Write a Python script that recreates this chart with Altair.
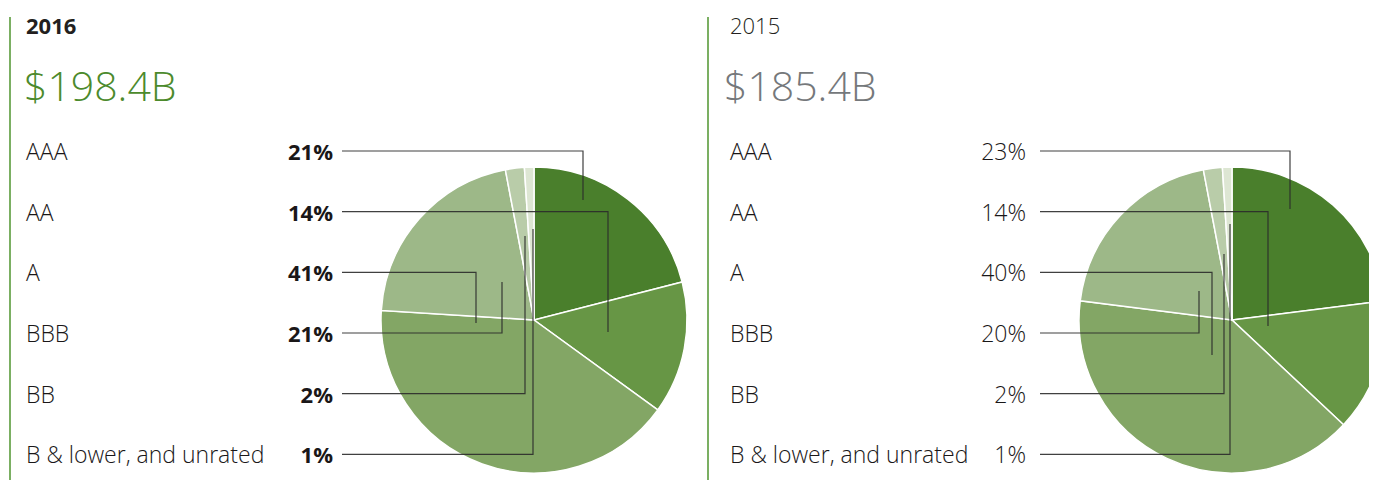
import altair as alt
import pandas as pd

# ---------------- data ----------------
ratings = ["AAA", "AA", "A", "BBB", "BB", "B & lower, and unrated"]
pct_2016 = [21, 14, 41, 21, 2, 1]
pct_2015 = [23, 14, 40, 20, 2, 1]
years = ["2016", "2015"]
totals = ["$198.4B", "$185.4B"]
series = [pct_2016, pct_2015]

# ---------------- styles / layout (chart pixels) ----------------
slice_colors = ["#4a7f2c", "#679645", "#83a665", "#9db888", "#b9cca9", "#dde6d3"]
total_colors = ["#4c8a2c", "#75787b"]
title_weights = ["bold", 300]
pct_weights = ["bold", 300]
pct_sizes = [22, 23]
W, H = 1361, 472
panel_rule_x = [2, 700]
panel_rule_top = 9
text_x = [18, 722]
total_x = [16, 716]
title_base = 26
total_base = 93
pct_right_x = [325, 1018]
leader_start_x = [334, 1032]
pie_center = [(526, 312), (1224, 312)]
pie_radius = 153
row_base0, row_step = 152, 60.66
leader_rise = 9
# leader end points, offsets from pie centre
leader_anchor = [
    [(49, -120), (74, 12), (-58, 3), (-32, -38), (-9, -84), (-1, -91)],
    [(58, -111), (36, 6), (-20, 35), (-33, -29), (-8, -66), (-2, -96)],
]
FONT = "Open Sans"

xs = alt.Scale(domain=[0, W], range=[0, W], nice=False, zero=False)
ys = alt.Scale(domain=[0, H], range=[0, H], nice=False, zero=False)


def X(f="x"):
    return alt.X(f"{f}:Q", scale=xs, axis=None)


def Y(f="y"):
    return alt.Y(f"{f}:Q", scale=ys, axis=None)


layers = []

# vertical green separators
rules_df = pd.DataFrame({"x": panel_rule_x, "y": [panel_rule_top] * 2, "y2": [H] * 2})
layers.append(
    alt.Chart(rules_df).mark_rule(color="#5a9b3b", strokeWidth=1.6).encode(
        x=X(), y=Y(), y2="y2:Q"
    )
)

row_y = [row_base0 + i * row_step for i in range(len(ratings))]

for p in range(2):
    # year title
    layers.append(
        alt.Chart(pd.DataFrame({"x": [text_x[p]], "y": [title_base], "t": [years[p]]}))
        .mark_text(align="left", baseline="alphabetic", font=FONT, fontSize=22,
                   fontWeight=title_weights[p], color="#231f20")
        .encode(x=X(), y=Y(), text="t:N")
    )
    # total amount
    layers.append(
        alt.Chart(pd.DataFrame({"x": [total_x[p]], "y": [total_base], "t": [totals[p]]}))
        .mark_text(align="left", baseline="alphabetic", font=FONT, fontSize=41,
                   fontWeight=300, color=total_colors[p])
        .encode(x=X(), y=Y(), text="t:N")
    )
    # rating labels
    lab_df = pd.DataFrame({"x": [text_x[p]] * len(ratings), "y": row_y, "t": ratings})
    layers.append(
        alt.Chart(lab_df)
        .mark_text(align="left", baseline="alphabetic", font=FONT, fontSize=23,
                   fontWeight=300, color="#1a1718")
        .encode(x=X(), y=Y(), text="t:N")
    )
    # percentages
    pct_df = pd.DataFrame({"x": [pct_right_x[p]] * len(ratings), "y": row_y,
                           "t": [f"{v}%" for v in series[p]]})
    layers.append(
        alt.Chart(pct_df)
        .mark_text(align="right", baseline="alphabetic", font=FONT, fontSize=pct_sizes[p],
                   fontWeight=pct_weights[p], color="#1a1718")
        .encode(x=X(), y=Y(), text="t:N")
    )
    # pie
    pie_df = pd.DataFrame({"rating": ratings, "pct": series[p], "idx": list(range(len(ratings)))})
    cx, cy = pie_center[p]
    layers.append(
        alt.Chart(pie_df)
        .mark_arc(radius=pie_radius, stroke="white", strokeWidth=1.5, clip=True)
        .encode(
            theta=alt.Theta("pct:Q", stack=True),
            color=alt.Color("rating:N", scale=alt.Scale(domain=ratings, range=slice_colors),
                            legend=None),
            order=alt.Order("idx:Q", sort="ascending"),
            x=alt.value(cx),
            y=alt.value(cy),
        )
    )

# leader lines
rows = []
for p in range(2):
    cx, cy = pie_center[p]
    for i, (dx, dy) in enumerate(leader_anchor[p]):
        ly = row_y[i] - leader_rise
        ax, ay = cx + dx, cy + dy
        lid = f"{p}-{i}"
        rows += [
            {"lid": lid, "seq": 0, "x": leader_start_x[p], "y": ly},
            {"lid": lid, "seq": 1, "x": ax, "y": ly},
            {"lid": lid, "seq": 2, "x": ax, "y": ay},
        ]
lead_df = pd.DataFrame(rows)
layers.append(
    alt.Chart(lead_df)
    .mark_line(color="#2b2b2b", strokeWidth=1.2, opacity=0.9, strokeJoin="miter", clip=True)
    .encode(x=X(), y=Y(), detail="lid:N", order="seq:Q")
)

chart = (
    alt.layer(*layers)
    .properties(width=W, height=H, padding=0,
                autosize=alt.AutoSizeParams(type="fit", contains="padding"))
    .configure_view(stroke=None)
)

chart.save("out.html", embed_options={"renderer": "svg", "actions": False})
